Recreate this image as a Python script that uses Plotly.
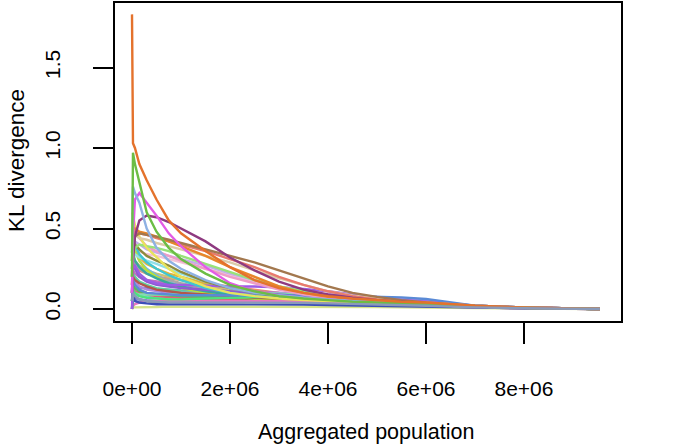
import plotly.graph_objects as go

# Aggregated population (x values shared by all series)
aggregated_population = [0, 20000, 60000, 150000, 300000, 500000, 750000, 1000000,
                         1500000, 2000000, 2500000, 3000000, 3500000, 4000000, 4500000,
                         5000000, 5500000, 6000000, 6500000, 7000000, 8000000, 9550000]

# KL divergence series
kl_steel = [0.0, 0.1, 0.12, 0.13, 0.13, 0.12, 0.12, 0.115, 0.11, 0.105, 0.1, 0.095, 0.09, 0.085, 0.08, 0.07, 0.06, 0.05, 0.035, 0.02, 0.01, 0.0]
kl_coral = [0.15, 0.28, 0.26, 0.24, 0.22, 0.2, 0.19, 0.18, 0.16, 0.14, 0.12, 0.1, 0.085, 0.07, 0.06, 0.05, 0.04, 0.03, 0.02, 0.015, 0.008, 0.0]
kl_aqua = [0.05, 0.09, 0.085, 0.08, 0.075, 0.07, 0.07, 0.07, 0.07, 0.068, 0.065, 0.062, 0.06, 0.055, 0.05, 0.045, 0.04, 0.03, 0.02, 0.015, 0.008, 0.0]
kl_plum = [0.2, 0.24, 0.22, 0.2, 0.18, 0.17, 0.16, 0.15, 0.13, 0.12, 0.11, 0.1, 0.09, 0.08, 0.07, 0.06, 0.05, 0.04, 0.03, 0.02, 0.01, 0.0]
kl_darkgreen = [0.05, 0.08, 0.07, 0.06, 0.05, 0.045, 0.04, 0.04, 0.04, 0.04, 0.04, 0.038, 0.035, 0.032, 0.03, 0.027, 0.024, 0.02, 0.015, 0.01, 0.005, 0.0]
kl_paleyellow = [0.1, 0.15, 0.14, 0.12, 0.1, 0.09, 0.08, 0.07, 0.06, 0.05, 0.045, 0.04, 0.035, 0.03, 0.028, 0.025, 0.022, 0.02, 0.015, 0.01, 0.005, 0.0]
kl_periwinkle = [0.0, 0.05, 0.06, 0.06, 0.055, 0.05, 0.05, 0.05, 0.055, 0.06, 0.06, 0.06, 0.058, 0.055, 0.05, 0.045, 0.04, 0.035, 0.025, 0.015, 0.008, 0.0]
kl_seafoam = [0.1, 0.22, 0.2, 0.17, 0.15, 0.13, 0.12, 0.11, 0.1, 0.095, 0.09, 0.085, 0.08, 0.075, 0.07, 0.06, 0.05, 0.04, 0.03, 0.02, 0.01, 0.0]
kl_rose = [0.05, 0.12, 0.11, 0.1, 0.09, 0.08, 0.075, 0.07, 0.065, 0.06, 0.055, 0.05, 0.045, 0.04, 0.035, 0.03, 0.025, 0.02, 0.015, 0.01, 0.005, 0.0]
kl_khaki = [0.3, 0.33, 0.3, 0.27, 0.24, 0.22, 0.2, 0.18, 0.15, 0.12, 0.1, 0.08, 0.065, 0.055, 0.045, 0.04, 0.035, 0.03, 0.02, 0.015, 0.008, 0.0]
kl_sky = [0.5, 0.45, 0.38, 0.3, 0.25, 0.21, 0.17, 0.14, 0.11, 0.09, 0.08, 0.075, 0.07, 0.065, 0.06, 0.055, 0.05, 0.04, 0.025, 0.015, 0.008, 0.0]
kl_green3 = [0.05, 0.15, 0.13, 0.11, 0.1, 0.09, 0.085, 0.08, 0.075, 0.07, 0.065, 0.06, 0.055, 0.05, 0.045, 0.04, 0.035, 0.03, 0.02, 0.015, 0.008, 0.0]
kl_lightpink = [0.25, 0.38, 0.37, 0.36, 0.34, 0.33, 0.31, 0.29, 0.25, 0.21, 0.17, 0.13, 0.1, 0.08, 0.065, 0.05, 0.04, 0.03, 0.025, 0.015, 0.008, 0.0]
kl_gray = [0.25, 0.3, 0.28, 0.25, 0.22, 0.2, 0.18, 0.16, 0.13, 0.1, 0.085, 0.07, 0.06, 0.05, 0.045, 0.04, 0.035, 0.03, 0.02, 0.015, 0.008, 0.0]
kl_gold = [0.35, 0.4, 0.36, 0.32, 0.28, 0.25, 0.22, 0.2, 0.16, 0.13, 0.11, 0.09, 0.075, 0.06, 0.05, 0.045, 0.04, 0.03, 0.02, 0.015, 0.008, 0.0]
kl_lightpurple = [0.15, 0.2, 0.17, 0.14, 0.12, 0.11, 0.1, 0.1, 0.1, 0.1, 0.1, 0.1, 0.095, 0.09, 0.085, 0.075, 0.065, 0.05, 0.035, 0.02, 0.01, 0.0]
kl_mint = [0.05, 0.1, 0.1, 0.09, 0.09, 0.09, 0.09, 0.095, 0.1, 0.1, 0.1, 0.095, 0.09, 0.08, 0.07, 0.06, 0.05, 0.04, 0.03, 0.02, 0.01, 0.0]
kl_lime = [0.4, 0.42, 0.36, 0.3, 0.24, 0.2, 0.16, 0.13, 0.1, 0.08, 0.065, 0.055, 0.05, 0.045, 0.04, 0.035, 0.03, 0.025, 0.02, 0.015, 0.008, 0.0]
kl_redbrown = [0.1, 0.2, 0.18, 0.16, 0.14, 0.12, 0.11, 0.1, 0.09, 0.08, 0.07, 0.065, 0.06, 0.05, 0.045, 0.04, 0.035, 0.03, 0.02, 0.015, 0.008, 0.0]
kl_lightcyan = [0.2, 0.32, 0.34, 0.32, 0.3, 0.28, 0.25, 0.22, 0.17, 0.13, 0.1, 0.08, 0.065, 0.055, 0.05, 0.045, 0.04, 0.03, 0.02, 0.015, 0.008, 0.0]
kl_teal = [0.3, 0.35, 0.3, 0.26, 0.22, 0.19, 0.16, 0.14, 0.11, 0.09, 0.08, 0.07, 0.06, 0.05, 0.045, 0.04, 0.035, 0.03, 0.02, 0.015, 0.008, 0.0]
kl_purple2 = [0.1, 0.27, 0.25, 0.2, 0.17, 0.15, 0.14, 0.13, 0.12, 0.11, 0.1, 0.09, 0.08, 0.07, 0.06, 0.05, 0.045, 0.035, 0.025, 0.015, 0.008, 0.0]
kl_yellowgreen = [0.0, 0.01, 0.01, 0.01, 0.01, 0.012, 0.015, 0.015, 0.015, 0.015, 0.015, 0.015, 0.015, 0.014, 0.013, 0.012, 0.01, 0.01, 0.008, 0.006, 0.003, 0.0]
kl_pink2 = [0.0, 0.02, 0.03, 0.04, 0.05, 0.05, 0.05, 0.05, 0.05, 0.05, 0.05, 0.048, 0.045, 0.04, 0.035, 0.03, 0.025, 0.02, 0.015, 0.01, 0.005, 0.0]
kl_darkblue = [0.0, 0.08, 0.05, 0.04, 0.035, 0.03, 0.03, 0.03, 0.03, 0.03, 0.03, 0.03, 0.028, 0.025, 0.022, 0.02, 0.018, 0.015, 0.012, 0.008, 0.004, 0.0]
kl_brightgreen = [0.0, 0.12, 0.1, 0.08, 0.07, 0.065, 0.06, 0.06, 0.065, 0.07, 0.075, 0.075, 0.07, 0.065, 0.06, 0.05, 0.045, 0.035, 0.025, 0.015, 0.008, 0.0]
kl_blue = [0.05, 0.18, 0.15, 0.12, 0.1, 0.095, 0.09, 0.085, 0.085, 0.085, 0.085, 0.085, 0.085, 0.083, 0.08, 0.077, 0.072, 0.062, 0.04, 0.02, 0.01, 0.0]
kl_violet = [0.0, 0.25, 0.27, 0.22, 0.18, 0.16, 0.15, 0.15, 0.145, 0.14, 0.14, 0.135, 0.125, 0.11, 0.09, 0.07, 0.055, 0.045, 0.03, 0.02, 0.01, 0.0]
kl_lavender = [0.2, 0.4, 0.42, 0.4, 0.37, 0.35, 0.33, 0.31, 0.27, 0.22, 0.18, 0.14, 0.11, 0.085, 0.065, 0.05, 0.04, 0.03, 0.025, 0.015, 0.008, 0.0]
kl_pink = [0.3, 0.55, 0.5, 0.44, 0.39, 0.36, 0.33, 0.3, 0.25, 0.2, 0.16, 0.12, 0.09, 0.07, 0.055, 0.045, 0.04, 0.03, 0.02, 0.015, 0.008, 0.0]
kl_cyan = [0.45, 0.48, 0.4, 0.34, 0.29, 0.25, 0.21, 0.18, 0.13, 0.1, 0.08, 0.07, 0.06, 0.055, 0.05, 0.045, 0.04, 0.03, 0.02, 0.015, 0.008, 0.0]
kl_olive = [0.25, 0.38, 0.4, 0.37, 0.33, 0.3, 0.27, 0.23, 0.17, 0.13, 0.1, 0.08, 0.065, 0.055, 0.045, 0.04, 0.035, 0.03, 0.02, 0.015, 0.008, 0.0]
kl_lightgreen = [0.1, 0.3, 0.38, 0.4, 0.39, 0.38, 0.36, 0.33, 0.28, 0.23, 0.18, 0.14, 0.11, 0.085, 0.065, 0.05, 0.04, 0.03, 0.025, 0.015, 0.008, 0.0]
kl_yellow = [0.6, 0.58, 0.52, 0.45, 0.38, 0.32, 0.25, 0.2, 0.14, 0.1, 0.08, 0.065, 0.055, 0.05, 0.045, 0.04, 0.035, 0.03, 0.02, 0.015, 0.008, 0.0]
kl_tan = [0.2, 0.45, 0.46, 0.44, 0.43, 0.41, 0.39, 0.37, 0.33, 0.29, 0.24, 0.19, 0.15, 0.11, 0.085, 0.065, 0.05, 0.04, 0.03, 0.02, 0.01, 0.0]
kl_salmon = [0.2, 0.42, 0.48, 0.47, 0.46, 0.44, 0.42, 0.4, 0.36, 0.31, 0.26, 0.2, 0.15, 0.11, 0.08, 0.06, 0.045, 0.035, 0.025, 0.015, 0.008, 0.0]
kl_orange2 = [0.3, 0.5, 0.5, 0.48, 0.47, 0.45, 0.42, 0.39, 0.33, 0.26, 0.2, 0.14, 0.1, 0.075, 0.06, 0.05, 0.04, 0.03, 0.02, 0.015, 0.008, 0.0]
kl_brown = [0.15, 0.35, 0.45, 0.47, 0.46, 0.45, 0.43, 0.41, 0.37, 0.33, 0.29, 0.24, 0.19, 0.14, 0.1, 0.075, 0.055, 0.04, 0.03, 0.02, 0.01, 0.0]
kl_darkpurple = [0.1, 0.3, 0.45, 0.55, 0.58, 0.57, 0.54, 0.5, 0.42, 0.32, 0.24, 0.17, 0.12, 0.09, 0.07, 0.055, 0.045, 0.035, 0.025, 0.015, 0.008, 0.0]
kl_magenta = [0.1, 0.45, 0.68, 0.72, 0.66, 0.58, 0.47, 0.39, 0.26, 0.16, 0.11, 0.085, 0.07, 0.06, 0.05, 0.045, 0.04, 0.03, 0.02, 0.015, 0.008, 0.0]
kl_lightblue = [0.35, 0.76, 0.72, 0.66, 0.5, 0.38, 0.3, 0.25, 0.18, 0.13, 0.1, 0.085, 0.07, 0.06, 0.05, 0.045, 0.04, 0.03, 0.02, 0.015, 0.008, 0.0]
kl_green = [0.2, 0.97, 0.9, 0.78, 0.6, 0.48, 0.38, 0.31, 0.22, 0.15, 0.11, 0.08, 0.065, 0.055, 0.045, 0.04, 0.035, 0.03, 0.02, 0.015, 0.008, 0.0]
kl_orange = [1.83, 1.03, 1.0, 0.9, 0.8, 0.68, 0.55, 0.47, 0.36, 0.26, 0.18, 0.13, 0.1, 0.08, 0.065, 0.055, 0.045, 0.04, 0.03, 0.02, 0.01, 0.0]
kl_grayblue = [0.05, 0.1, 0.08, 0.06, 0.05, 0.045, 0.04, 0.04, 0.04, 0.04, 0.04, 0.04, 0.038, 0.035, 0.032, 0.028, 0.024, 0.02, 0.015, 0.01, 0.005, 0.0]

x_tick_values = [0, 2000000, 4000000, 6000000, 8000000]
x_tick_labels = ["0e+00", "2e+06", "4e+06", "6e+06", "8e+06"]
y_tick_values = [0.0, 0.5, 1.0, 1.5]
y_tick_labels = ["0.0", "0.5", "1.0", "1.5"]
x_title = "Aggregated population"
y_title = "KL divergence"

series = [kl_steel, kl_coral, kl_aqua, kl_plum,
          kl_darkgreen, kl_paleyellow, kl_periwinkle, kl_seafoam, kl_rose, kl_khaki,
          kl_sky, kl_green3, kl_lightpink, kl_gray, kl_gold, kl_lightpurple, kl_mint,
          kl_lime, kl_redbrown, kl_lightcyan, kl_teal, kl_purple2, kl_yellowgreen,
          kl_pink2, kl_darkblue, kl_brightgreen, kl_blue, kl_violet, kl_lavender,
          kl_pink, kl_cyan, kl_olive, kl_lightgreen, kl_yellow, kl_tan, kl_salmon,
          kl_orange2, kl_brown, kl_darkpurple, kl_magenta, kl_lightblue, kl_green,
          kl_orange, kl_grayblue]
line_colors = ["#6E88C8", "#F08C6C", "#5CE0D0", "#C070C0",
               "#3E8E3E", "#EDEA9A", "#7C7CE0", "#60D0A0", "#E0607A", "#C9C078",
               "#6FB8E8", "#5CB85C", "#F3C3D8", "#A8A8A8", "#E2B33C", "#B088E0", "#7FE0B0",
               "#B7E03C", "#B3574A", "#8FE0E8", "#3AA89D", "#8E5CD0", "#D5E38A",
               "#E878C0", "#3C4FB8", "#4FE07E", "#5A8AD6", "#9D5CE6", "#C3AEE9",
               "#EE9CC6", "#3FC6D2", "#8E8B3E", "#98E27A", "#E8E35C", "#DCCBA8", "#E87A6E",
               "#E8862A", "#A3784E", "#8E3A80", "#E35BE6", "#8EB1E3", "#6CBD45",
               "#E4722C", "#8A9AB9"]

fig = go.Figure()
for ys, col in zip(series, line_colors):
    fig.add_trace(go.Scatter(x=aggregated_population, y=ys, mode="lines",
                             line=dict(color=col, width=2.4), showlegend=False,
                             hoverinfo="skip"))

font_family = "Liberation Sans, Arial, Helvetica, sans-serif"
W, H = 677, 444
ML, MR, MT, MB = 115, 56, 3, 123
pw, ph = W - ML - MR, H - MT - MB

fig.update_layout(
    width=W, height=H,
    margin=dict(l=ML, r=MR, t=MT, b=MB),
    paper_bgcolor="white", plot_bgcolor="white",
    font=dict(family=font_family, size=21, color="black"),
)
fig.update_xaxes(
    range=[-347000, 9980000], showgrid=False, zeroline=False, automargin=False,
    showline=True, linecolor="black", linewidth=2, mirror=True,
    ticks="outside", ticklen=21, tickwidth=2, tickcolor="black",
    tickvals=x_tick_values, ticktext=x_tick_labels,
    tickfont=dict(size=21, family=font_family, color="black"),
    ticklabelstandoff=27,
)
fig.update_yaxes(
    range=[-0.0745, 1.9006], showgrid=False, zeroline=False, automargin=False,
    showline=True, linecolor="black", linewidth=2, mirror=True,
    ticks="outside", ticklen=20, tickwidth=2, tickcolor="black",
    tickvals=y_tick_values, ticktext=y_tick_labels, tickangle=-90,
    tickfont=dict(size=21, family=font_family, color="black"),
    ticklabelstandoff=25,
)
# axis titles placed as annotations in pixel-derived paper coordinates
fig.add_annotation(text=x_title, xref="paper", yref="paper",
                   x=(366 - ML) / pw, y=-(432 - (H - MB)) / ph,
                   xanchor="center", yanchor="middle", showarrow=False,
                   font=dict(size=21.5, family=font_family, color="black"))
fig.add_annotation(text=y_title, xref="paper", yref="paper",
                   x=(16 - ML) / pw, y=((H - MB) - 161) / ph,
                   xanchor="center", yanchor="middle", showarrow=False, textangle=-90,
                   font=dict(size=22.5, family=font_family, color="black"))
fig.write_html("out.html",
               config={"displayModeBar": False},
               post_script="document.body.style.margin='0';"
                           "document.body.style.overflow='hidden';")
